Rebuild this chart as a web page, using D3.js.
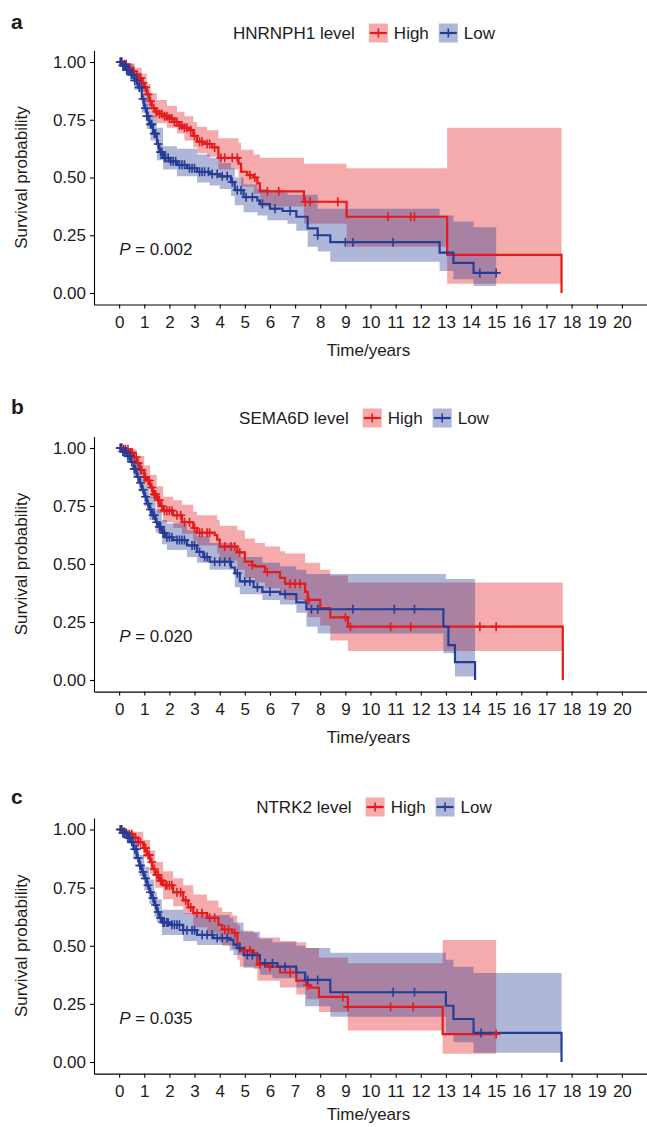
<!DOCTYPE html>
<html>
<head>
<meta charset="utf-8">
<script src="https://cdn.jsdelivr.net/npm/d3@7"></script>
<style>
  body { margin: 0; background: #fff; }
  text { font-family: "Liberation Sans", Arial, sans-serif; fill: #1c1c1c; }
</style>
</head>
<body>
<svg id="chart" width="647" height="1127"></svg>
<script>
// ---- data ----
var panelLetters = ["a", "b", "c"];
var geneNames = ["HNRNPH1", "SEMA6D", "NTRK2"];
var pValues = ["0.002", "0.020", "0.035"];
var groupNames = ["High", "Low"];
var xTicks = [0, 1, 2, 3, 4, 5, 6, 7, 8, 9, 10, 11, 12, 13, 14, 15, 16, 17, 18, 19, 20];
var yTicks = [0, 0.25, 0.5, 0.75, 1];

// survival steps: [time, survival]
var hnrnph1High = [[0,1],[0.15,0.99],[0.3,0.975],[0.45,0.96],[0.6,0.945],[0.75,0.93],[0.9,0.91],[1.0,0.89],[1.1,0.86],[1.2,0.83],[1.3,0.8],[1.45,0.785],[1.6,0.775],[1.8,0.765],[2.0,0.755],[2.2,0.74],[2.4,0.725],[2.6,0.715],[2.8,0.705],[2.95,0.68],[3.1,0.655],[3.4,0.645],[3.7,0.63],[3.95,0.585],[4.75,0.56],[4.85,0.525],[5.1,0.51],[5.35,0.5],[5.5,0.475],[5.6,0.44],[7.35,0.395],[9.05,0.33],[13.05,0.165],[17.6,0]];
var hnrnph1Low = [[0,1],[0.15,0.985],[0.3,0.965],[0.45,0.945],[0.6,0.92],[0.75,0.89],[0.9,0.84],[1.0,0.8],[1.1,0.765],[1.2,0.73],[1.35,0.69],[1.5,0.645],[1.6,0.61],[1.75,0.585],[2.0,0.57],[2.3,0.555],[2.7,0.54],[3.1,0.525],[3.6,0.515],[4.0,0.505],[4.45,0.48],[4.6,0.445],[4.95,0.415],[5.5,0.4],[5.6,0.385],[6.0,0.365],[6.5,0.355],[7.05,0.33],[7.5,0.28],[7.9,0.25],[8.4,0.22],[12.75,0.175],[13.3,0.13],[14.1,0.087],[15.0,0.087]];
var sema6dHigh = [[0,1],[0.15,0.995],[0.36,0.98],[0.55,0.96],[0.7,0.935],[0.83,0.905],[1.0,0.875],[1.1,0.86],[1.23,0.83],[1.35,0.8],[1.5,0.775],[1.62,0.75],[1.75,0.73],[2.15,0.71],[2.5,0.68],[2.95,0.655],[3.1,0.635],[3.8,0.625],[3.9,0.605],[4.0,0.575],[4.7,0.55],[5.0,0.51],[5.3,0.495],[5.4,0.49],[5.8,0.465],[6.4,0.44],[6.6,0.415],[7.4,0.38],[7.5,0.345],[8.0,0.31],[8.4,0.27],[9.1,0.23],[17.65,0]];
var sema6dLow = [[0,1],[0.15,0.985],[0.3,0.965],[0.44,0.94],[0.57,0.91],[0.7,0.875],[0.8,0.85],[0.9,0.82],[1.0,0.79],[1.1,0.76],[1.2,0.735],[1.3,0.71],[1.45,0.68],[1.56,0.66],[1.7,0.635],[1.83,0.615],[2.15,0.603],[2.7,0.58],[3.1,0.552],[3.35,0.53],[3.6,0.51],[4.45,0.485],[4.6,0.46],[4.8,0.425],[5.35,0.4],[5.7,0.38],[6.4,0.37],[7.05,0.335],[7.45,0.305],[12.9,0.23],[13.1,0.15],[13.36,0.077],[14.16,0]];
var ntrk2High = [[0,1],[0.15,0.99],[0.3,0.98],[0.56,0.965],[0.75,0.945],[0.96,0.92],[1.1,0.89],[1.23,0.86],[1.33,0.83],[1.43,0.805],[1.6,0.78],[1.75,0.76],[2.15,0.73],[2.55,0.695],[2.75,0.665],[2.95,0.64],[3.5,0.62],[3.95,0.59],[4.1,0.57],[4.5,0.555],[4.7,0.51],[4.8,0.48],[5.35,0.47],[5.5,0.42],[5.9,0.41],[6.4,0.385],[7.05,0.35],[7.45,0.33],[7.6,0.32],[7.95,0.28],[9.1,0.237],[12.87,0.12],[15.0,0.12]];
var ntrk2Low = [[0,1],[0.15,0.985],[0.3,0.965],[0.44,0.946],[0.57,0.915],[0.7,0.877],[0.8,0.845],[0.9,0.817],[1.0,0.79],[1.1,0.76],[1.2,0.73],[1.3,0.705],[1.4,0.675],[1.5,0.645],[1.6,0.62],[1.7,0.6],[2.03,0.59],[2.55,0.567],[3.1,0.547],[3.75,0.533],[4.4,0.525],[4.55,0.505],[4.7,0.49],[4.95,0.46],[5.6,0.425],[6.3,0.41],[7.05,0.385],[7.4,0.353],[8.4,0.3],[13.0,0.242],[13.3,0.185],[14.1,0.125],[17.6,0]];

// confidence bands: [time, lower, upper]
var hnrnph1HighCI = [[0,1,1],[0.3,0.955,0.995],[0.6,0.915,0.975],[0.9,0.87,0.95],[1.1,0.81,0.905],[1.25,0.76,0.865],[1.5,0.735,0.835],[1.9,0.715,0.81],[2.3,0.69,0.785],[2.6,0.66,0.765],[2.95,0.63,0.74],[3.1,0.605,0.72],[3.5,0.59,0.705],[3.95,0.535,0.67],[4.75,0.5,0.65],[4.85,0.46,0.62],[5.35,0.43,0.6],[5.6,0.375,0.585],[7.35,0.3,0.56],[9.05,0.2,0.54],[13.05,0.04,0.715],[17.6,0.04,0.715]];
var hnrnph1LowCI = [[0,1,1],[0.3,0.94,0.99],[0.6,0.88,0.955],[0.9,0.78,0.89],[1.1,0.71,0.82],[1.25,0.66,0.77],[1.5,0.575,0.715],[1.75,0.535,0.635],[2.3,0.505,0.625],[3.1,0.478,0.6],[3.6,0.465,0.585],[4.0,0.45,0.563],[4.45,0.42,0.54],[4.6,0.38,0.5],[4.95,0.35,0.47],[5.5,0.335,0.45],[5.9,0.315,0.435],[6.7,0.3,0.425],[7.05,0.27,0.425],[7.5,0.2,0.425],[7.9,0.18,0.365],[8.4,0.135,0.365],[12.75,0.095,0.335],[13.3,0.06,0.31],[14.1,0.03,0.285],[15.0,0.03,0.285]];
var sema6dHighCI = [[0,1,1],[0.36,0.96,0.995],[0.7,0.9,0.965],[1.0,0.84,0.925],[1.23,0.785,0.885],[1.5,0.72,0.835],[1.75,0.68,0.79],[2.15,0.655,0.775],[2.5,0.63,0.755],[2.95,0.6,0.725],[3.1,0.58,0.71],[3.9,0.545,0.69],[4.0,0.515,0.665],[4.7,0.475,0.645],[5.0,0.44,0.61],[5.4,0.42,0.59],[5.8,0.395,0.575],[6.4,0.365,0.555],[6.6,0.345,0.545],[7.4,0.3,0.505],[7.5,0.27,0.505],[8.0,0.235,0.475],[8.4,0.17,0.45],[9.1,0.125,0.42],[17.65,0.125,0.42]];
var sema6dLowCI = [[0,1,1],[0.3,0.94,0.99],[0.57,0.875,0.95],[0.8,0.81,0.9],[1.0,0.75,0.84],[1.2,0.69,0.79],[1.45,0.635,0.735],[1.7,0.585,0.69],[1.9,0.56,0.675],[2.7,0.53,0.645],[3.1,0.505,0.62],[3.6,0.475,0.59],[4.6,0.4,0.56],[4.8,0.37,0.53],[5.7,0.345,0.505],[6.4,0.325,0.49],[7.05,0.29,0.475],[7.45,0.23,0.457],[7.9,0.2,0.457],[12.9,0.115,0.457],[13.0,0.115,0.435],[13.36,0.015,0.435],[14.16,0.015,0.435]];
var ntrk2HighCI = [[0,1,1],[0.3,0.96,0.995],[0.56,0.935,0.99],[0.96,0.88,0.955],[1.23,0.81,0.91],[1.43,0.75,0.86],[1.75,0.7,0.82],[2.15,0.67,0.79],[2.55,0.635,0.76],[2.95,0.58,0.72],[3.5,0.555,0.695],[3.95,0.52,0.665],[4.1,0.5,0.645],[4.5,0.485,0.63],[4.7,0.44,0.59],[4.8,0.41,0.565],[5.35,0.4,0.555],[5.5,0.35,0.535],[6.4,0.32,0.52],[7.05,0.29,0.515],[7.45,0.27,0.49],[7.95,0.215,0.45],[9.1,0.135,0.425],[12.87,0.035,0.525],[15.0,0.035,0.525]];
var ntrk2LowCI = [[0,1,1],[0.3,0.94,0.99],[0.57,0.875,0.95],[0.8,0.8,0.89],[1.0,0.74,0.84],[1.2,0.68,0.785],[1.4,0.625,0.73],[1.5,0.6,0.7],[1.7,0.546,0.655],[2.55,0.52,0.64],[3.1,0.503,0.632],[4.4,0.48,0.62],[4.55,0.46,0.6],[4.95,0.405,0.56],[5.6,0.375,0.53],[6.1,0.36,0.515],[7.05,0.32,0.5],[7.4,0.24,0.49],[8.4,0.195,0.47],[13.0,0.12,0.44],[13.3,0.085,0.41],[14.1,0.04,0.383],[17.6,0.04,0.383]];

// censoring times
var hnrnph1HighCens = [0.05,0.1,0.2,0.28,0.35,0.42,0.5,0.58,0.7,0.78,0.85,0.95,1.05,1.15,1.25,1.38,1.5,1.6,1.7,1.8,1.9,2.0,2.1,2.2,2.3,2.4,2.5,2.6,2.7,2.85,3.0,3.2,3.3,3.5,3.6,3.8,4.05,4.2,4.5,4.7,5.2,5.4,5.9,6.35,7.4,7.6,8.7,10.7,11.6,11.75];
var hnrnph1LowCens = [0.05,0.1,0.15,0.2,0.25,0.3,0.35,0.4,0.48,0.55,0.62,0.7,0.8,0.88,0.95,1.05,1.1,1.15,1.25,1.3,1.4,1.45,1.55,1.65,1.7,1.8,1.85,1.95,2.05,2.15,2.25,2.4,2.5,2.6,2.8,2.9,3.0,3.2,3.3,3.4,3.55,3.7,3.9,4.1,4.3,4.5,4.7,4.85,5.05,5.3,5.7,6.2,6.8,7.9,9.0,9.3,10.9,14.35,15.0];
var sema6dHighCens = [0.05,0.1,0.18,0.25,0.35,0.45,0.52,0.6,0.68,0.75,0.85,0.9,1.0,1.05,1.15,1.2,1.3,1.4,1.45,1.55,1.6,1.7,1.8,1.9,2.0,2.1,2.3,2.45,2.6,2.8,3.0,3.2,3.3,3.5,3.6,4.2,4.45,4.6,4.8,5.3,5.9,6.8,7.0,7.2,7.55,9.0,9.2,10.8,11.6,14.35,15.0];
var sema6dLowCens = [0.05,0.1,0.15,0.2,0.28,0.35,0.42,0.5,0.6,0.65,0.75,0.85,0.95,1.05,1.15,1.25,1.35,1.4,1.5,1.6,1.65,1.75,1.8,1.9,2.0,2.1,2.3,2.4,2.5,2.6,2.9,3.0,3.2,3.4,3.5,3.8,4.0,4.2,4.4,4.7,5.0,5.2,5.5,6.0,6.6,7.65,7.9,9.3,10.95,11.75];
var ntrk2HighCens = [0.05,0.1,0.2,0.3,0.4,0.5,0.65,0.75,0.85,1.0,1.05,1.15,1.2,1.3,1.4,1.5,1.55,1.65,1.7,1.85,1.9,2.0,2.1,2.3,2.45,2.65,2.85,3.1,3.3,3.6,3.8,4.2,4.35,4.6,5.0,5.2,5.6,6.0,6.8,7.5,8.9,9.1,10.8,11.7,15.0];
var ntrk2LowCens = [0.05,0.1,0.15,0.2,0.28,0.35,0.42,0.5,0.55,0.62,0.68,0.75,0.82,0.85,0.95,1.05,1.15,1.25,1.35,1.45,1.55,1.65,1.75,1.8,1.9,1.95,2.1,2.2,2.3,2.4,2.55,2.7,2.9,3.0,3.3,3.5,3.7,3.9,4.1,4.3,4.8,5.1,5.3,5.8,6.1,6.6,7.5,7.9,10.9,11.75,14.4];

// ---- layout ----
var colors = { High: "#E41A1C", Low: "#263D96" };
var bandOpacity = 0.37;
var plotLeft = 94, plotRight = 647;
var panels = [
  { yOne: 62,    yZero: 293,  letterY: 22,  legendY: 33,  legendCx: 364, high: hnrnph1High, highCI: hnrnph1HighCI, highCens: hnrnph1HighCens, low: hnrnph1Low, lowCI: hnrnph1LowCI, lowCens: hnrnph1LowCens },
  { yOne: 448,   yZero: 680,  letterY: 407, legendY: 418, legendCx: 364, high: sema6dHigh,  highCI: sema6dHighCI,  highCens: sema6dHighCens,  low: sema6dLow,  lowCI: sema6dLowCI,  lowCens: sema6dLowCens },
  { yOne: 829.5, yZero: 1062, letterY: 797, legendY: 807, legendCx: 374, high: ntrk2High,   highCI: ntrk2HighCI,   highCens: ntrk2HighCens,   low: ntrk2Low,   lowCI: ntrk2LowCI,   lowCens: ntrk2LowCens }
];

var svg = d3.select("#chart");
var x = d3.scaleLinear().domain([-1, 21]).range([plotLeft, plotRight]);

function survAt(steps, t) {
  var i = d3.bisector(function (d) { return d[0]; }).right(steps, t) - 1;
  return steps[Math.max(i, 0)][1];
}

panels.forEach(function (p, k) {
  var y = d3.scaleLinear().domain([0, 1]).range([p.yZero, p.yOne]);
  var yFull = d3.scaleLinear().domain([-0.05, 1.05]).range([y(-0.05), y(1.05)]);
  var g = svg.append("g");

  // panel letter
  g.append("text")
    .attr("x", 11).attr("y", p.letterY).attr("dy", "0.35em")
    .style("font-size", "21px").style("font-weight", "bold")
    .text(panelLetters[k]);

  // confidence bands
  var area = d3.area()
    .curve(d3.curveStepAfter)
    .x(function (d) { return x(d[0]); })
    .y0(function (d) { return y(d[1]); })
    .y1(function (d) { return y(d[2]); });
  [["High", p.highCI], ["Low", p.lowCI]].forEach(function (s) {
    g.append("path").datum(s[1])
      .attr("d", area)
      .attr("fill", colors[s[0]])
      .attr("fill-opacity", bandOpacity);
  });

  // survival curves
  var line = d3.line()
    .curve(d3.curveStepAfter)
    .x(function (d) { return x(d[0]); })
    .y(function (d) { return y(d[1]); });
  [["High", p.high], ["Low", p.low]].forEach(function (s) {
    g.append("path").datum(s[1])
      .attr("d", line)
      .attr("fill", "none")
      .attr("stroke", colors[s[0]])
      .attr("stroke-width", 2.2);
  });

  // censor marks
  [["High", p.high, p.highCens], ["Low", p.low, p.lowCens]].forEach(function (s) {
    g.selectAll(null).data(s[2]).enter().append("path")
      .attr("transform", function (t) { return "translate(" + x(t) + "," + y(survAt(s[1], t)) + ")"; })
      .attr("d", "M-4.5,0H4.5M0,-4.5V4.5")
      .attr("stroke", colors[s[0]])
      .attr("stroke-width", 1.6);
  });

  // axes
  var xAxis = g.append("g")
    .attr("transform", "translate(0," + yFull(-0.05) + ")")
    .call(d3.axisBottom(x).tickValues(xTicks).tickSize(4).tickSizeOuter(0).tickPadding(7));
  var yAxis = g.append("g")
    .attr("transform", "translate(" + plotLeft + ",0)")
    .call(d3.axisLeft(yFull).tickValues(yTicks).tickFormat(d3.format(".2f")).tickSize(4).tickSizeOuter(0).tickPadding(4));
  [xAxis, yAxis].forEach(function (a) {
    a.select(".domain").attr("stroke", "#000").attr("stroke-width", 1.1);
    a.selectAll(".tick line").attr("stroke", "#000").attr("stroke-width", 1.1);
    a.selectAll(".tick text").style("font-size", "17px").attr("fill", "#1c1c1c")
      .style("font-family", "'Liberation Sans', Arial, sans-serif");
  });

  // axis titles (kept inside the 1127px frame)
  g.append("text")
    .attr("x", (plotLeft + plotRight) / 2 - 2).attr("y", Math.min(p.yZero + 57, 1114)).attr("dy", "0.35em")
    .attr("text-anchor", "middle").style("font-size", "17px")
    .text("Time/years");
  g.append("text")
    .attr("transform", "translate(21," + y(0.5) + ") rotate(-90)")
    .attr("dy", "0.35em").attr("text-anchor", "middle").style("font-size", "17px")
    .text("Survival probability");

  // p-value
  var pt = g.append("text")
    .attr("x", x(0)).attr("y", y(0.19)).attr("dy", "0.35em")
    .style("font-size", "17px");
  pt.append("tspan").style("font-style", "italic").text("P");
  pt.append("tspan").text(" = " + pValues[k]);

  // legend
  var leg = g.append("g");
  var title = leg.append("text").attr("dy", "0.35em").style("font-size", "17px")
    .text(geneNames[k] + " level");
  var cx = title.node().getComputedTextLength() + 14;
  groupNames.forEach(function (name) {
    var key = leg.append("g").attr("transform", "translate(" + cx + ",0)");
    key.append("rect").attr("x", 0).attr("y", -9.5).attr("width", 19).attr("height", 19)
      .attr("fill", colors[name]).attr("fill-opacity", bandOpacity);
    key.append("path").attr("d", "M1,0H18").attr("stroke", colors[name]).attr("stroke-width", 2.2);
    key.append("path").attr("d", "M9.5,-4.5V4.5M5,0H14").attr("stroke", colors[name]).attr("stroke-width", 1.6);
    var lt = leg.append("text").attr("x", cx + 25).attr("dy", "0.35em").style("font-size", "17px").text(name);
    cx += 25 + lt.node().getComputedTextLength() + 10;
  });
  var legW = cx - 10;
  leg.attr("transform", "translate(" + (p.legendCx - legW / 2) + "," + p.legendY + ")");
});
</script>
</body>
</html>
